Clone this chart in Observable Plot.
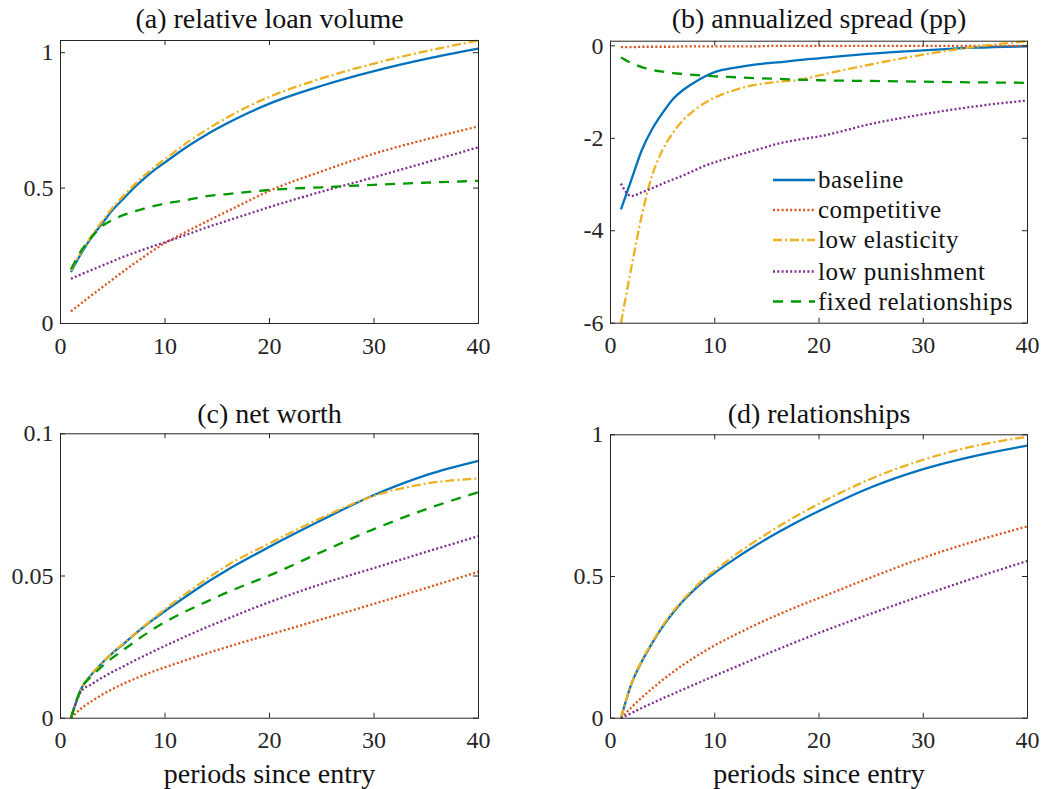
<!DOCTYPE html>
<html>
<head>
<meta charset="utf-8">
<script src="https://cdn.jsdelivr.net/npm/d3@7"></script>
<script src="https://cdn.jsdelivr.net/npm/@observablehq/plot@0.6"></script>
<style>
  body { margin: 0; background: #fff; }
  #fig { position: relative; width: 1044px; height: 789px; font-family: "Liberation Serif", serif; color: #262626; }
  #fig svg { position: absolute; overflow: visible; }
</style>
</head>
<body>
<div id="fig"></div>
<script>
// Periods since entry at which each path is sampled
const periods = [1, 2, 3, 4, 5, 6, 7, 8, 9, 10, 12, 14, 16, 18, 20, 25, 30, 35, 40];

const seriesNames = ["baseline", "competitive", "low elasticity", "low punishment", "fixed relationships"];
const seriesColors = ["#0072BD", "#D95319", "#EDB120", "#7E2F8E", "#009A00"];
const seriesDash = [null, "2,2.3", "9,3,2,3", "2,2.3", "10,8"];

const xTicks = [0, 10, 20, 30, 40];

// (a) relative loan volume
const loanBaseline    = [0.19, 0.26, 0.32, 0.37, 0.42, 0.46, 0.50, 0.535, 0.567, 0.595, 0.65, 0.698, 0.74, 0.778, 0.812, 0.878, 0.932, 0.977, 1.015];
const loanCompetitive = [0.045, 0.075, 0.105, 0.134, 0.163, 0.192, 0.22, 0.247, 0.273, 0.297, 0.338, 0.377, 0.415, 0.453, 0.49, 0.562, 0.627, 0.68, 0.728];
const loanLowElast    = [0.195, 0.265, 0.325, 0.378, 0.428, 0.47, 0.51, 0.546, 0.578, 0.607, 0.665, 0.716, 0.762, 0.802, 0.837, 0.905, 0.96, 1.006, 1.045];
const loanLowPunish   = [0.165, 0.182, 0.198, 0.214, 0.23, 0.246, 0.26, 0.274, 0.287, 0.3, 0.327, 0.355, 0.38, 0.405, 0.43, 0.487, 0.54, 0.595, 0.651];
const loanFixed       = [0.2, 0.27, 0.32, 0.36, 0.383, 0.4, 0.413, 0.424, 0.434, 0.443, 0.455, 0.47, 0.478, 0.486, 0.493, 0.503, 0.512, 0.52, 0.527];
const loanTicks = [0, 0.5, 1];

// (b) annualized spread (pp)
const spreadBaseline    = [-3.54, -2.9, -2.26, -1.8, -1.45, -1.15, -0.95, -0.8, -0.67, -0.57, -0.47, -0.4, -0.36, -0.31, -0.27, -0.17, -0.1, -0.04, -0.01];
const spreadCompetitive = [-0.03, -0.03, -0.02, -0.02, -0.02, -0.02, -0.01, -0.01, -0.01, -0.01, -0.01, -0.01, 0, 0, 0, 0, 0, 0, 0];
const spreadLowElast    = [-6.0, -4.8, -3.67, -2.8, -2.25, -1.88, -1.6, -1.4, -1.24, -1.12, -0.95, -0.84, -0.78, -0.74, -0.64, -0.4, -0.19, -0.02, 0.1];
const spreadLowPunish   = [-2.98, -3.25, -3.17, -3.08, -2.98, -2.89, -2.8, -2.7, -2.6, -2.52, -2.38, -2.25, -2.12, -2.03, -1.96, -1.69, -1.48, -1.31, -1.18];
const spreadFixed       = [-0.25, -0.37, -0.46, -0.52, -0.56, -0.59, -0.61, -0.63, -0.645, -0.66, -0.68, -0.7, -0.715, -0.73, -0.745, -0.76, -0.775, -0.79, -0.8];
const spreadTicks = [-6, -4, -2, 0];

// (c) net worth
const worthBaseline    = [0, 0.0105, 0.0155, 0.0195, 0.023, 0.026, 0.0292, 0.0322, 0.035, 0.0377, 0.0428, 0.0477, 0.0522, 0.0563, 0.0603, 0.0697, 0.0785, 0.0855, 0.0905];
const worthCompetitive = [0, 0.0035, 0.006, 0.0083, 0.0103, 0.0121, 0.0137, 0.0152, 0.0166, 0.0179, 0.0204, 0.0228, 0.0251, 0.0273, 0.0294, 0.0348, 0.0402, 0.0458, 0.0515];
const worthLowElast    = [0, 0.0105, 0.0155, 0.0195, 0.023, 0.0262, 0.0293, 0.0324, 0.0354, 0.0383, 0.0438, 0.049, 0.0538, 0.0578, 0.0615, 0.0705, 0.0782, 0.0825, 0.0843];
const worthLowPunish   = [0, 0.0095, 0.012, 0.0143, 0.0163, 0.0182, 0.0201, 0.0219, 0.0237, 0.0254, 0.0288, 0.032, 0.035, 0.038, 0.0408, 0.0472, 0.0528, 0.0585, 0.064];
const worthFixed       = [0, 0.0105, 0.0148, 0.0183, 0.0213, 0.024, 0.0266, 0.0292, 0.0316, 0.0338, 0.0376, 0.041, 0.0443, 0.0473, 0.0502, 0.0585, 0.0665, 0.0735, 0.0795];
const worthTicks = [0, 0.05, 0.1];

// (d) relationships
const relBaseline    = [0, 0.12, 0.2, 0.265, 0.323, 0.372, 0.415, 0.452, 0.485, 0.513, 0.564, 0.611, 0.654, 0.694, 0.731, 0.815, 0.879, 0.926, 0.962];
const relCompetitive = [0, 0.038, 0.073, 0.105, 0.135, 0.163, 0.189, 0.213, 0.236, 0.257, 0.295, 0.331, 0.364, 0.395, 0.424, 0.497, 0.566, 0.625, 0.677];
const relLowElast    = [0, 0.122, 0.203, 0.268, 0.327, 0.377, 0.42, 0.458, 0.492, 0.521, 0.577, 0.627, 0.674, 0.717, 0.757, 0.845, 0.912, 0.961, 0.993];
const relLowPunish   = [0, 0.018, 0.036, 0.053, 0.07, 0.086, 0.102, 0.118, 0.134, 0.15, 0.181, 0.212, 0.242, 0.272, 0.301, 0.369, 0.434, 0.496, 0.555];
const relTicks = [0, 0.5, 1];

const AXIS = "#262626";
const FONT = "'Liberation Serif', serif";
const fig = document.getElementById("fig");

function panel({title, xlabel, series, yDomain, yTicks, left, top, width, height, margin, titleDy}) {
  const [ml, mr, mt, mb] = margin;
  const frameW = width - ml - mr;
  const frameH = height - mt - mb;
  const T = 5; // inward tick length
  const marks = [];
  // one line per scenario, styled like its legend entry
  series.forEach((values, i) => {
    if (!values) return;
    const rows = periods.map((p, j) => ({period: p, value: values[j]}));
    marks.push(Plot.line(rows, {
      x: "period", y: "value",
      stroke: seriesColors[i], strokeWidth: 2.3,
      strokeDasharray: seriesDash[i] ?? undefined,
      strokeLinecap: "butt", strokeLinejoin: "round",
      curve: "monotone-x"
    }));
  });
  const fmt = d => String(d);
  marks.push(
    Plot.frame({stroke: AXIS, strokeWidth: 1}),
    // tick labels
    Plot.axisX({anchor: "bottom", ticks: xTicks, tickSize: 0, tickPadding: 13, tickFormat: fmt, label: null, fontSize: 24}),
    Plot.axisY({anchor: "left", ticks: yTicks, tickSize: 0, tickPadding: 7, tickFormat: fmt, label: null, fontSize: 24}),
    // inward tick marks on all four sides of the box
    Plot.tickX(xTicks, {x: d => d, insetTop: frameH - T, stroke: AXIS}),
    Plot.tickX(xTicks, {x: d => d, insetBottom: frameH - T, stroke: AXIS}),
    Plot.tickY(yTicks, {y: d => d, insetRight: frameW - T, stroke: AXIS}),
    Plot.tickY(yTicks, {y: d => d, insetLeft: frameW - T, stroke: AXIS}),
    Plot.text([title], {frameAnchor: "top", dy: titleDy, lineAnchor: "middle", fontSize: 28, fill: "#111", ariaLabel: "title"})
  );
  if (xlabel) {
    marks.push(Plot.text([xlabel], {frameAnchor: "bottom", dy: 55.6, lineAnchor: "middle", fontSize: 28, fill: "#111", ariaLabel: "xlabel"}));
  }
  const svg = Plot.plot({
    width, height,
    marginLeft: ml, marginRight: mr, marginTop: mt, marginBottom: mb,
    x: {domain: [0, 40]},
    y: {domain: yDomain},
    style: {fontSize: "24px", color: "#262626", background: "transparent", overflow: "visible"},
    marks
  });
  svg.setAttribute("font-family", FONT);
  svg.style.left = left + "px";
  svg.style.top = top + "px";
  fig.appendChild(svg);
  return svg;
}

panel({
  title: "(a) relative loan volume",
  series: [loanBaseline, loanCompetitive, loanLowElast, loanLowPunish, loanFixed],
  yDomain: [0, 1.045], yTicks: loanTicks,
  left: 0, top: 0, width: 522, height: 390, margin: [60, 44, 40, 67], titleDy: -21.7
});

panel({
  title: "(b) annualized spread (pp)",
  series: [spreadBaseline, spreadCompetitive, spreadLowElast, spreadLowPunish, spreadFixed],
  yDomain: [-6, 0.1], yTicks: spreadTicks,
  left: 522, top: 0, width: 522, height: 390, margin: [88, 17, 40.7, 67.3], titleDy: -22.4
});

panel({
  title: "(c) net worth", xlabel: "periods since entry",
  series: [worthBaseline, worthCompetitive, worthLowElast, worthLowPunish, worthFixed],
  yDomain: [0, 0.1], yTicks: worthTicks,
  left: 0, top: 390, width: 522, height: 399, margin: [60, 44, 43.3, 71.3], titleDy: -20
});

panel({
  title: "(d) relationships", xlabel: "periods since entry",
  series: [relBaseline, relCompetitive, relLowElast, relLowPunish, null],
  yDomain: [0, 1], yTicks: relTicks,
  left: 522, top: 390, width: 522, height: 399, margin: [88, 17, 44.3, 71.3], titleDy: -21
});

// Legend placed inside panel (b), lower right
const legend = d3.select(fig).append("svg")
  .attr("class", "legend")
  .attr("width", 280).attr("height", 160)
  .style("left", "760px").style("top", "160px");
const rowY = [20, 50, 80, 111.5, 141.5];
seriesNames.forEach((name, i) => {
  legend.append("line")
    .attr("x1", 13).attr("x2", 55).attr("y1", rowY[i]).attr("y2", rowY[i])
    .attr("stroke", seriesColors[i]).attr("stroke-width", 2.3)
    .attr("stroke-dasharray", seriesDash[i]);
  legend.append("text")
    .attr("x", 58).attr("y", rowY[i]).attr("dy", "0.32em")
    .attr("font-size", 25).attr("fill", "#111")
    .style("letter-spacing", "0.5px")
    .text(name);
});

// Serif lettering throughout, set inline so nothing downstream overrides it
d3.select(fig).selectAll("text").style("font-family", FONT);
d3.select(fig).selectAll('g[aria-label="title"] text, g[aria-label="xlabel"] text').style("letter-spacing", "1px");
</script>
</body>
</html>
